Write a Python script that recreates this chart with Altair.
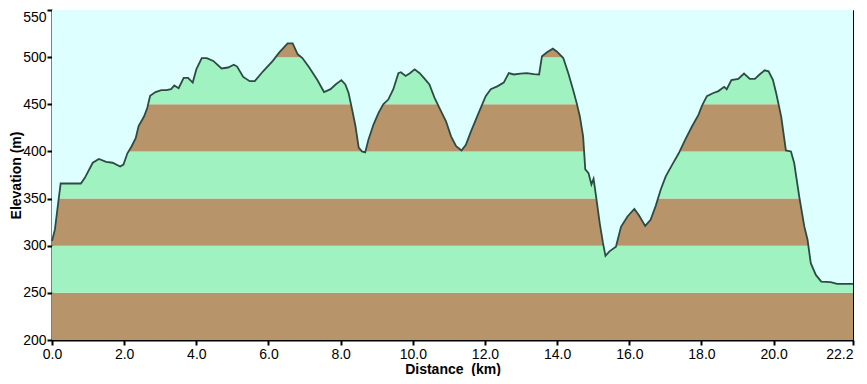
import altair as alt
import pandas as pd

# Profile (distance km, elevation m)
dist = [0.0, 0.08, 0.17, 0.24, 0.80, 0.91, 1.13, 1.30, 1.50, 1.68, 1.89, 1.98, 2.09, 2.20, 2.32,
        2.40, 2.55, 2.64, 2.72, 2.87, 3.03, 3.17, 3.30, 3.39, 3.51, 3.65, 3.77, 3.90, 4.00, 4.15,
        4.29, 4.47, 4.70, 4.88, 5.04, 5.13, 5.30, 5.48, 5.62, 5.85, 6.12, 6.30, 6.53, 6.67, 6.81,
        6.94, 7.13, 7.35, 7.54, 7.72, 7.86, 8.02, 8.13, 8.22, 8.32, 8.41, 8.50, 8.59, 8.68, 8.77,
        8.91, 9.05, 9.18, 9.32, 9.46, 9.60, 9.67, 9.80, 9.92, 10.05, 10.19, 10.33, 10.46, 10.60,
        10.74, 10.92, 11.06, 11.20, 11.35, 11.47, 11.61, 11.75, 11.88, 12.02, 12.16, 12.34, 12.52,
        12.66, 12.80, 12.98, 13.16, 13.35, 13.50, 13.58, 13.71, 13.88, 13.99, 14.17, 14.31, 14.44,
        14.54, 14.63, 14.72, 14.78, 14.87, 14.95, 15.01, 15.08, 15.18, 15.27, 15.34, 15.45, 15.63,
        15.77, 15.95, 16.14, 16.27, 16.44, 16.59, 16.73, 16.87, 17.01, 17.19, 17.37, 17.55, 17.74,
        17.92, 18.01, 18.15, 18.33, 18.47, 18.63, 18.70, 18.83, 19.02, 19.18, 19.34, 19.48, 19.61,
        19.75, 19.86, 19.98, 20.07, 20.21, 20.34, 20.48, 20.57, 20.71, 20.85, 20.94, 21.03, 21.17,
        21.32, 21.58, 21.76, 22.04, 22.2]
elev = [305, 317, 345, 366, 366, 372, 388, 392, 389, 388, 384, 386, 398, 405, 414,
        427, 437, 446, 459, 463, 465, 465, 466, 470, 467, 478, 478, 473, 487, 499,
        499, 496, 488, 489, 492, 490, 479, 474.5, 474.5, 485, 496, 505, 514.5, 514.5, 503,
        499, 489, 476, 463, 466, 471, 475.6, 471, 462, 444, 427, 404, 400, 399, 412.5,
        428.5, 441, 450, 455, 466, 483, 484, 480, 483, 487, 483, 477, 471, 457,
        446, 432, 416, 405.5, 401, 407, 421, 434, 446, 458.6, 466, 469, 473,
        483, 481.6, 482.6, 483, 482, 481.6, 501, 505, 509, 506, 499, 483, 465.7,
        451.5, 437, 416, 381, 377, 365, 371, 352, 324, 303, 289.3, 294, 299,
        320, 331, 339, 332, 321, 327.5, 342, 359.4, 373.6, 386, 398, 412.5, 426.7,
        439, 448, 458.6, 462, 464, 468.5, 466, 475.6, 477, 482.6, 477, 477, 481.6,
        486, 485, 476, 462, 437, 401, 400, 387.7, 352, 320.5, 306.3, 281.5, 269,
        262, 261.3, 259.6, 259.6, 259.6]

# Elevation bands (every 50 m, alternating)
band_lo = [200, 250, 300, 350, 400, 450, 500]
band_hi = [250, 300, 350, 400, 450, 500, 550]
band_kind = ["brown", "green", "brown", "green", "brown", "green", "brown"]

x_ticks = [0, 2, 4, 6, 8, 10, 12, 14, 16, 18, 20, 22.2]
y_ticks = [200, 250, 300, 350, 400, 450, 500, 550]

BROWN = "#B8946A"
GREEN = "#A0F2C0"
SKY = "#DDFFFF"
LINE = "#2E4A44"

prof = pd.DataFrame({"d": dist, "e": elev, "top": [550] * len(dist)})
bands = pd.DataFrame({"lo": band_lo, "hi": band_hi, "kind": band_kind,
                      "x0": [dist[0]] * len(band_lo), "x1": [dist[-1]] * len(band_lo)})

xscale = alt.Scale(domain=[0, 22.2], nice=False, zero=False)
yscale = alt.Scale(domain=[200, 550], nice=False, zero=False)

LABEL_FONT = "'Liberation Sans Narrow', 'Liberation Sans', Arial, sans-serif"
TITLE_FONT = "'Liberation Sans', Arial, sans-serif"

xaxis = alt.Axis(values=x_ticks, format=".1f", title="Distance\u00a0\u00a0(km)",
                 labelFont=LABEL_FONT, labelFontSize=14, labelColor="black",
                 labelAlign={"condition": {"test": "datum.value >= 22", "value": "right"}, "value": "center"},
                 titleFont=TITLE_FONT, titleFontSize=14, titleFontWeight="bold", titleColor="black",
                 titleY=33, titleBaseline="alphabetic",
                 tickColor="black", tickSize=5, tickWidth=2, domainColor="black", domainWidth=2,
                 labelPadding=2, grid=False, labelFlush=False, labelOverlap=False)
yaxis = alt.Axis(values=y_ticks, format="d", title="Elevation (m)",
                 labelFont=LABEL_FONT, labelFontSize=14, labelColor="black",
                 labelBaseline={"condition": {"test": "datum.value >= 550", "value": "top"}, "value": "middle"},
                 titleFont=TITLE_FONT, titleFontSize=14, titleFontWeight="bold", titleColor="black",
                 tickColor="black", tickSize=5, tickWidth=2, domainColor="black", domainWidth=2,
                 labelPadding=1, titleX=-29, titleAngle=270, titleBaseline="bottom",
                 grid=False, labelFlush=False, labelOverlap=False)

band_layer = alt.Chart(bands).mark_rect().encode(
    x=alt.X("x0:Q", scale=xscale, axis=xaxis),
    x2="x1:Q",
    y=alt.Y("lo:Q", scale=yscale, axis=yaxis),
    y2="hi:Q",
    fill=alt.Fill("kind:N", scale=alt.Scale(domain=["brown", "green"], range=[BROWN, GREEN]), legend=None),
)

sky_layer = alt.Chart(prof).mark_area(color=SKY, opacity=1, interpolate="linear").encode(
    x=alt.X("d:Q", scale=xscale),
    y=alt.Y("e:Q", scale=yscale, stack=None),
    y2="top:Q",
)

line_layer = alt.Chart(prof).mark_line(color=LINE, strokeWidth=1.8).encode(
    x=alt.X("d:Q", scale=xscale),
    y=alt.Y("e:Q", scale=yscale),
)

chart = alt.layer(band_layer, sky_layer, line_layer).properties(
    width=801, height=330,
    autosize=alt.AutoSizeParams(type="none"),
    padding={"left": 44, "top": 2, "right": 6, "bottom": 36},
    background="white",
).configure_view(stroke="black", strokeWidth=1)

chart.save("out.html", embed_options={"renderer": "svg", "actions": False})
